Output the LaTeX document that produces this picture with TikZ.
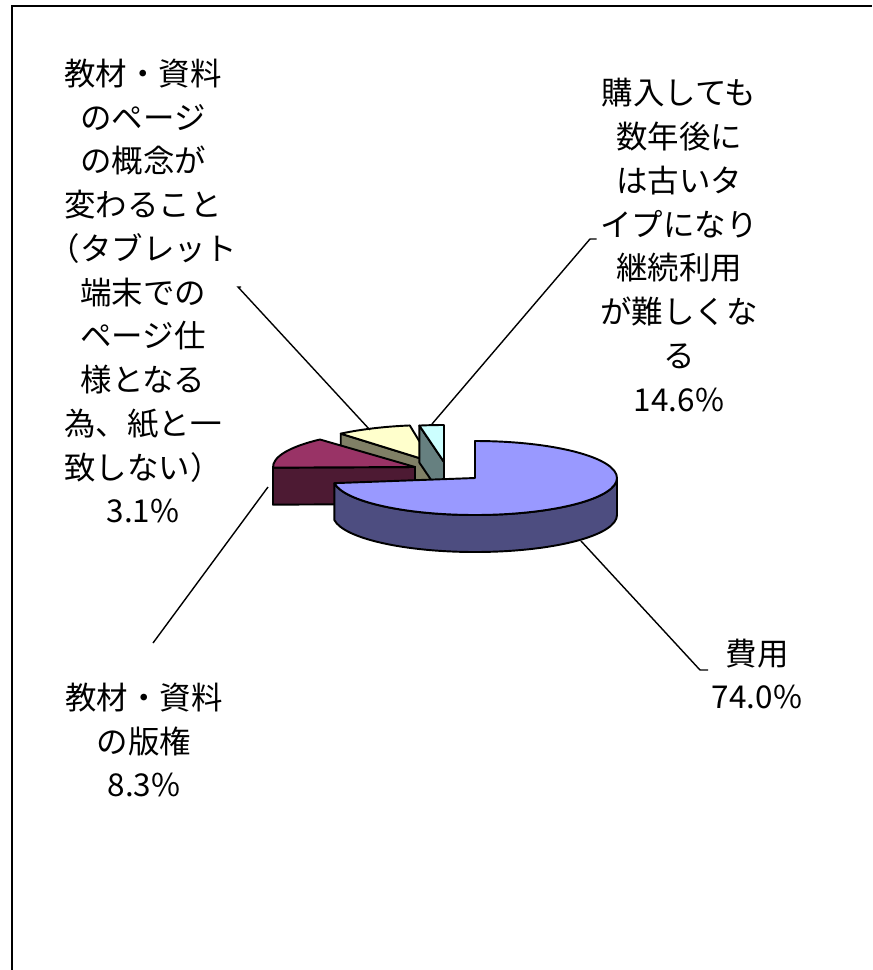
\documentclass[tikz,border=0pt]{standalone}
\usepackage{fontspec}
\usetikzlibrary{calc}
\newfontfamily\jpfont{Noto Sans CJK JP}

\definecolor{costTop}{HTML}{9999FF}
\definecolor{costSide}{HTML}{4D4D80}
\definecolor{rightsTop}{HTML}{993366}
\definecolor{rightsSide}{HTML}{4D1A33}
\definecolor{pageTop}{HTML}{FFFFCC}
\definecolor{pageSide}{HTML}{808066}
\definecolor{buyTop}{HTML}{CCFFFF}
\definecolor{buySide}{HTML}{668080}

\tikzset{
    slice/.style={draw=black, line width=1.1pt, line join=round},
    leader/.style={draw=black, line width=0.8pt},
    lbl/.style={font=\jpfont\fontsize{17.9pt}{24.9pt}\selectfont,
        align=center, inner sep=2pt},
}

\begin{document}
\begin{tikzpicture}[x=0.02cm, y=0.02cm]
    \useasboundingbox (0,0) rectangle (872,-970);

    % chart frame, only left and top edges inside the picture
    \draw[line width=1.1pt] (12,-970) -- (12,-6) -- (872,-6);

    % slice vertices
    \coordinate (vBuy) at (444,-462);
    \coordinate (vPage) at (432,-462);
    \coordinate (vRights) at (415,-467);
    \coordinate (vCost) at (475,-478);

    % Slices back to front
    \draw[slice, fill=pageSide] (vPage)
        -- ++(130:142 and 37) -- ++(0,-37)
        -- ($(vPage)+(0,-37)$) -- cycle;
    \draw[slice, fill=pageTop] (vPage)
        -- ++(99:142 and 37)
        arc[start angle=99, end angle=130,
            x radius=142, y radius=37] -- cycle;
    %
    \draw[slice, fill=buySide] (vBuy)
        -- ++(100:142 and 37) -- ++(0,-37)
        -- ($(vBuy)+(0,-37)$) -- cycle;
    \draw[slice, fill=buyTop] (vBuy)
        -- ++(90:142 and 37)
        arc[start angle=90, end angle=100,
            x radius=142, y radius=37] -- cycle;
    %
    \draw[slice, fill=rightsSide] (vRights)
        -- ++(181:142 and 37) -- ++(0,-37)
        -- ($(vRights)+(0,-37)$) -- cycle;
    \draw[slice, fill=rightsTop] (vRights)
        -- ++(132:142 and 37)
        arc[start angle=132, end angle=181,
            x radius=142, y radius=37] -- cycle;
    %
    \draw[slice, fill=costSide] (vCost) ++(188:142 and 37)
        arc[start angle=188, end angle=360,
            x radius=142, y radius=37] -- ++(0,-37)
        arc[start angle=360, end angle=188,
            x radius=142, y radius=37] -- cycle;
    \draw[slice, fill=costTop] (vCost)
        -- ++(90:142 and 37)
        arc[start angle=90, end angle=-172,
            x radius=142, y radius=37] -- cycle;

    % Labels
    \node[lbl] (lblPage) at (143,-291)
        {教材・資料\\のページ\\の概念が\\変わること\\（タブレット\\端末での\\ページ仕\\様となる\\為、紙と一\\致しない）\\3.1\%};
    \node[lbl] (lblRights) at (144,-740)
        {教材・資料\\の版権\\8.3\%};
    \node[lbl] (lblBuy) at (679,-245)
        {購入しても\\数年後に\\は古いタ\\イプになり\\継続利用\\が難しくな\\る\\14.6\%};
    \node[lbl] (lblCost) at (757,-674)
        {費用\\74.0\%};

    % Leader lines
    \coordinate (tipPage) at (370,-430);
    \coordinate (kneePage) at (238,-287);
    \draw[leader] (tipPage) -- (kneePage)
        -- (kneePage -| lblPage.east);
    %
    \coordinate (tipRights) at (268,-487);
    \coordinate (endRights) at (153,-643);
    \draw[leader] (tipRights) -- (endRights);
    %
    \coordinate (tipBuy) at (432,-424);
    \coordinate (kneeBuy) at (590,-239);
    \draw[leader] (tipBuy) -- (kneeBuy)
        -- (kneeBuy -| lblBuy.west);
    %
    \coordinate (tipCost) at (581,-541);
    \coordinate (kneeCost) at (700,-670);
    \draw[leader] (tipCost) -- (kneeCost)
        -- (kneeCost -| lblCost.west);
\end{tikzpicture}
\end{document}
